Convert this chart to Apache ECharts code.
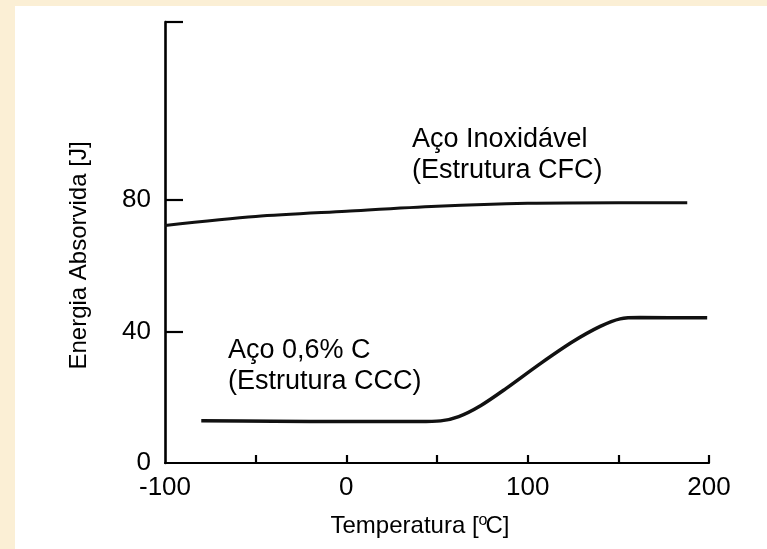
<!DOCTYPE html>
<html>
<head>
<meta charset="utf-8">
<script src="https://cdn.jsdelivr.net/npm/echarts@6/dist/echarts.min.js"></script>
<style>
html,body{margin:0;padding:0;background:#FBEFD5;width:767px;height:549px;overflow:hidden;}
#c{position:absolute;left:15px;top:6px;width:752px;height:543px;background:#ffffff;}
</style>
</head>
<body>
<div id="c"></div>
<script>
// Data
const xTicks = [-50, 0, 50, 100, 150, 200];
const xLabels = [-100, 0, 100, 200];
const yTicks = [40, 80, 134];
const yLabels = [0, 40, 80];

const inoxTemp = [-100, -50, 0, 50, 100, 150, 188];
const inoxEnergy = [72.2, 74.9, 76.5, 78.0, 78.9, 79.1, 79.1];

const carbonTemp = [-80, -40, 0, 40, 52, 62, 74, 88, 107, 125, 140, 151, 162, 199];
const carbonEnergy = [12.8, 12.7, 12.6, 12.6, 12.8, 14.1, 17.4, 22.6, 30.2, 36.9, 41.5, 43.8, 44.2, 44.1];

const labelInox = ['Aço Inoxidável', '(Estrutura CFC)'];
const labelCarbon = ['Aço 0,6% C', '(Estrutura CCC)'];

const FONT = '"Liberation Sans", Arial, sans-serif';
const chart = echarts.init(document.getElementById('c'));

function pairs(xs, ys) { return xs.map((x, i) => [x, ys[i]]); }

chart.setOption({
  animation: false,
  grid: { left: 150, right: 58, top: 16, bottom: 86 },
  xAxis: {
    type: 'value', min: -100, max: 200, interval: 50,
    splitLine: { show: false },
    axisLine: { onZero: false, lineStyle: { color: '#000', width: 2.2 } },
    axisTick: { inside: true, length: 8, customValues: xTicks, lineStyle: { color: '#000', width: 2.2 } },
    axisLabel: { customValues: xLabels, margin: 12, color: '#000', fontSize: 26, fontFamily: FONT },
    name: '{t|Temperatura [}{s|o}{t|C]}',
    nameLocation: 'middle', nameGap: 50,
    nameTextStyle: {
      padding: [0, 34, 0, 0],
      rich: {
        t: { fontSize: 24, fontFamily: FONT, color: '#000' },
        s: { fontSize: 16, fontFamily: FONT, color: '#000', verticalAlign: 'top', padding: [0, -2, 10, 0] }
      }
    }
  },
  yAxis: {
    type: 'value', min: 0, max: 134,
    splitLine: { show: false },
    axisLine: { onZero: false, lineStyle: { color: '#000', width: 2.6 } },
    axisTick: { inside: true, length: 18, customValues: yTicks, lineStyle: { color: '#000', width: 2.2 } },
    axisLabel: { customValues: yLabels, margin: 14, color: '#000', fontSize: 26, fontFamily: FONT },
    name: 'Energia Absorvida [J]',
    nameLocation: 'middle', nameGap: 74, nameRotate: 90,
    nameTextStyle: { fontSize: 24, fontFamily: FONT, color: '#000', padding: [0, 26, 0, 0] }
  },
  series: [
    {
      type: 'line', data: pairs(inoxTemp, inoxEnergy), smooth: 0.3, showSymbol: false,
      lineStyle: { color: '#111', width: 3 }
    },
    {
      type: 'line', data: pairs(carbonTemp, carbonEnergy), smooth: 0.3, showSymbol: false,
      lineStyle: { color: '#111', width: 3.5 }
    }
  ],
  graphic: [
    { type: 'text', left: 397, top: 118, style: { text: labelInox.join('\n'), fontSize: 27, fontFamily: FONT, fill: '#000', lineHeight: 31 } },
    { type: 'text', left: 213, top: 329, style: { text: labelCarbon.join('\n'), fontSize: 27, fontFamily: FONT, fill: '#000', lineHeight: 31 } }
  ]
});
</script>
</body>
</html>
